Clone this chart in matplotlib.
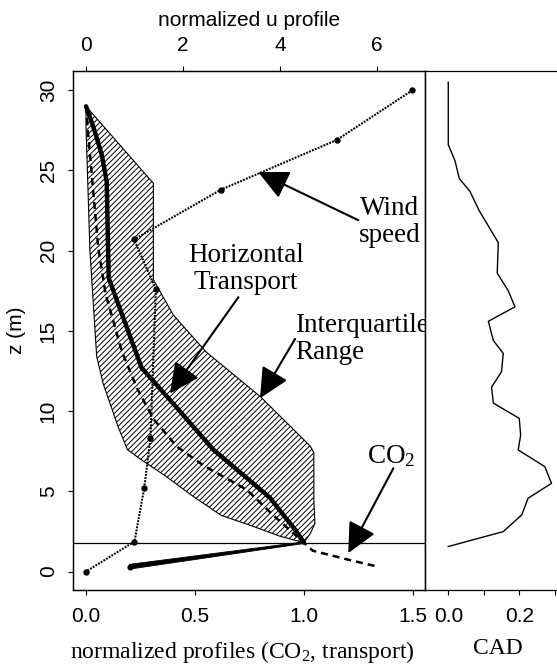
import matplotlib
matplotlib.use("Agg")
import matplotlib.pyplot as plt

plt.rcParams['font.family'] = ['Liberation Sans', 'DejaVu Sans']
plt.rcParams['mathtext.fontset'] = 'custom'
plt.rcParams['mathtext.rm'] = 'Liberation Serif'
plt.rcParams['mathtext.it'] = 'Liberation Serif:italic'
plt.rcParams['hatch.linewidth'] = 0.7

SERIF = ['Liberation Serif', 'DejaVu Serif']

# canopy top (m)
canopy_z = 1.8

# horizontal transport, normalized (above canopy and below canopy)
trans_z = [29.0, 27.7, 26.0, 24.3, 18.3, 12.7, 10.7, 7.6, 4.6, 3.0, 2.6, 1.8]
trans_x = [0.0, 0.034, 0.072, 0.095, 0.104, 0.255, 0.385, 0.584, 0.844, 0.936, 0.96, 1.0]
trans_low_z = [1.8, 0.3]
trans_low_x = [1.0, 0.2]

# normalized CO2 profile
co2_z = [29.0, 27.4, 20.2, 17.3, 13.7, 11.4, 9.5, 7.8, 6.6, 5.1, 3.5, 2.4, 1.8, 1.3, 0.75, 0.3]
co2_x = [0.0, 0.009, 0.056, 0.09, 0.165, 0.235, 0.31, 0.416, 0.54, 0.737, 0.86, 0.95, 1.0, 1.04, 1.2, 1.34]

# interquartile range of transport: upper and lower quartiles
iqr_hi_z = [29.0, 24.2, 18.2, 16.0, 13.7, 10.9, 7.8, 7.4, 4.5, 3.0, 2.4, 1.8]
iqr_hi_x = [0.0, 0.309, 0.309, 0.40, 0.55, 0.80, 1.03, 1.045, 1.045, 1.05, 1.03, 1.0]
iqr_lo_z = [29.0, 27.7, 20.0, 13.4, 11.7, 9.0, 7.6, 7.0, 6.0, 4.7, 3.5, 2.9, 2.2, 1.8]
iqr_lo_x = [0.0, 0.0, 0.018, 0.049, 0.079, 0.148, 0.19, 0.25, 0.36, 0.49, 0.62, 0.75, 0.89, 1.0]

# normalized wind speed
wind_z = [30.0, 26.9, 23.8, 20.7, 17.6, 8.3, 5.2, 1.87, 0.0]
wind_u = [6.73, 5.17, 2.78, 0.99, 1.44, 1.33, 1.20, 1.0, 0.0]

# cumulative area density
cad_z = [30.5, 27.5, 26.6, 25.6, 24.5, 23.7, 22.5, 20.5, 18.6, 17.5, 16.5, 15.6, 14.4,
         13.6, 12.45, 11.5, 10.5, 9.55, 8.5, 7.58, 6.54, 5.5, 4.57, 3.53, 2.49, 1.56]
cad = [0.0, 0.0, 0.0, 0.019, 0.031, 0.061, 0.087, 0.141, 0.138, 0.169, 0.188, 0.113, 0.127,
       0.155, 0.150, 0.122, 0.127, 0.200, 0.204, 0.197, 0.272, 0.291, 0.225, 0.207, 0.155, 0.0]

W, H = 557, 664
fig = plt.figure(figsize=(W / 100, H / 100), dpi=100)
ax = fig.add_axes([72.8 / W, 1 - 590 / H, (425 - 72.8) / W, (590 - 71) / H])
axr = fig.add_axes([425 / W, 1 - 590 / H, (620 - 425) / W, (590 - 71) / H], sharey=ax)
axu = ax.twiny()

# interquartile band
band_x = iqr_hi_x + iqr_lo_x[::-1]
band_z = iqr_hi_z + iqr_lo_z[::-1]
ax.fill(band_x, band_z, facecolor='white', edgecolor='black', hatch='//////', lw=0.8)

# transport profile, thick line above the canopy and a tapered wedge below
ax.plot(trans_x, trans_z, color='black', lw=3.2, solid_capstyle='round', solid_joinstyle='round')
half = 0.15
wedge_x = [trans_low_x[1], trans_low_x[0], trans_low_x[0], trans_low_x[1]]
wedge_z = [trans_low_z[1] + half, trans_low_z[0] + 0.05, trans_low_z[0] - 0.05, trans_low_z[1] - half]
ax.fill(wedge_x, wedge_z, color='black', lw=0.6)
ax.plot(trans_low_x[1], trans_low_z[1], 'o', ms=3.4, color='black')

# CO2 profile
ax.plot(co2_x, co2_z, color='black', lw=1.8, dashes=(2.8, 2.0))

ax.axhline(canopy_z, color='black', lw=0.9)

# wind on its own scale
axu.plot(wind_u, wind_z, color='black', lw=1.5, dashes=(0.9, 0.6), marker='o', ms=3.6)

ax.set_xlim(-0.0606, 1.555)
axu.set_xlim(-0.272, 6.99)
ax.set_ylim(-1.15, 31.2)

ax.set_xticks([0, 0.5, 1.0, 1.5])
ax.set_xticklabels(['0.0', '0.5', '1.0', '1.5'])
ax.set_yticks([0, 5, 10, 15, 20, 25, 30])
axu.set_xticks([0, 2, 4, 6])

for a in (ax, axu, axr):
    for s in a.spines.values():
        s.set_linewidth(0.9)
ax.tick_params(axis='x', direction='out', length=3.3, width=0.8, labelsize=15, pad=9.0)
ax.tick_params(axis='y', direction='out', length=3.3, width=0.8, labelsize=15, pad=7.5)
axu.tick_params(axis='x', direction='out', length=3.3, width=0.8, labelsize=15, pad=8.5)
for lab in ax.get_yticklabels():
    lab.set_rotation(90)
    lab.set_va('center')

ax.set_ylabel('z (m)', fontsize=15)
ax.yaxis.set_label_coords(-0.133, 0.5)
axu.set_xlabel('normalized u profile', fontsize=15)
axu.xaxis.set_label_coords(0.5, 1.086)
ax.set_xlabel('normalized profiles (CO$_2$, transport)', fontsize=17, family=SERIF)
ax.xaxis.set_label_coords(0.48, -0.094)

# CAD panel
axr.plot(cad, cad_z, color='black', lw=1.0)
axr.set_xlim(-0.0656, 0.484)
axr.set_xticks([0, 0.1, 0.2, 0.3])
axr.set_xticklabels(['0.0', '', '0.2', ''])
axr.tick_params(axis='x', direction='out', length=3.3, width=0.8, labelsize=15, pad=9.0)
axr.tick_params(axis='y', left=False, labelleft=False)
axr.spines['right'].set_visible(False)
axr.set_xlabel('CAD', fontsize=17, family=SERIF)
axr.xaxis.set_label_coords(0.376, -0.093)

# annotations
arrow = dict(arrowstyle='-|>,head_length=0.93,head_width=0.45', mutation_scale=20,
             lw=1.5, color='black', shrinkA=0, shrinkB=0)
ax.annotate('', xy=(0.79, 24.9), xytext=(1.249, 21.9), arrowprops=arrow)
ax.annotate('', xy=(0.385, 11.1), xytext=(0.699, 17.1), arrowprops=arrow)
ax.annotate('', xy=(0.798, 10.8), xytext=(0.959, 14.5), arrowprops=arrow)
ax.annotate('', xy=(1.203, 1.15), xytext=(1.41, 6.44), arrowprops=arrow)

ax.text(1.394, 21.8, 'Wind\nspeed', fontsize=19.5, family=SERIF, ha='center', va='center',
        linespacing=1.1)
ax.text(0.734, 18.84, 'Horizontal\nTransport', fontsize=19.5, family=SERIF, ha='center',
        va='center', linespacing=1.1)
ax.text(0.959, 14.5, 'Interquartile\nRange', fontsize=19.5, family=SERIF, ha='left',
        va='center', linespacing=1.1, clip_on=False)
ax.text(1.288, 6.75, 'CO$_2$', fontsize=19.5, family=SERIF, ha='left', va='baseline')

fig.savefig('out.png', dpi=100)
